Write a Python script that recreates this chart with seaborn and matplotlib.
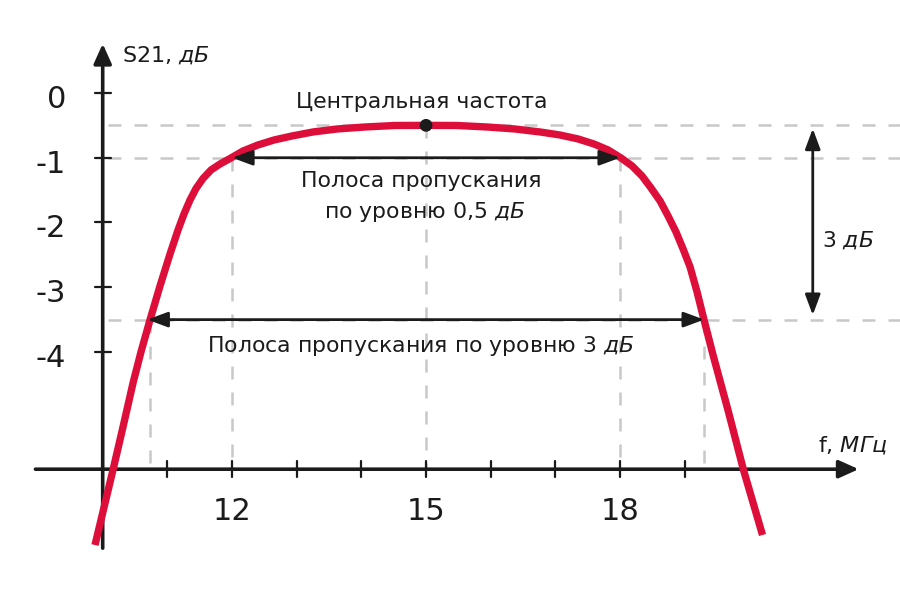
import matplotlib
matplotlib.use("Agg")
import matplotlib.pyplot as plt
import seaborn as sns
import pandas as pd

# ---------------- data ----------------
freq_mhz = [9.881, 10.159, 10.314, 10.469, 10.592, 10.731, 10.886, 11.041, 11.165,
            11.257, 11.350, 11.443, 11.551, 11.675, 11.814, 11.969, 12.169, 12.401,
            12.649, 12.927, 13.252, 13.623, 14.056, 14.520, 15.000, 15.479, 15.943,
            16.376, 16.763, 17.072, 17.351, 17.598, 17.815, 18.016, 18.186, 18.340,
            18.479, 18.619, 18.743, 18.866, 18.975, 19.083, 19.191, 19.299, 19.438,
            19.677, 19.909, 20.203]
s21_db = [-6.981, -5.822, -5.158, -4.479, -3.999, -3.506, -2.981, -2.487, -2.116,
          -1.869, -1.653, -1.475, -1.321, -1.189, -1.097, -1.012, -0.896, -0.803,
          -0.726, -0.664, -0.602, -0.556, -0.525, -0.502, -0.500, -0.502, -0.525,
          -0.556, -0.602, -0.649, -0.710, -0.788, -0.880, -1.004, -1.127, -1.282,
          -1.467, -1.668, -1.900, -2.147, -2.410, -2.687, -3.073, -3.506, -4.046,
          -4.927, -5.822, -6.826]

x_tick_values = [12, 15, 18]
x_tick_labels = ["12", "15", "18"]
x_minor_ticks = [11, 12, 13, 14, 15, 16, 17, 18, 19]
y_tick_values = [0, -1, -2, -3, -4]
y_tick_labels = ["0", "-1", "-2", "-3", "-4"]

center_freq = 15.0
peak_db = -0.5
band05_edges = [12.0, 18.0]
band05_level = -1.0
band3_edges = [10.73, 19.30]
band3_level = -3.5

label_y = "S21, $\\mathit{дБ}$"
label_x = "f, $\\mathit{МГц}$"
label_center = "Центральная частота"
label_band05 = ["Полоса пропускания", "по уровню 0,5 $\\mathit{дБ}$"]
label_band3 = "Полоса пропускания по уровню 3 $\\mathit{дБ}$"
label_3db = "3 $\\mathit{дБ}$"

# ---------------- style ----------------
sns.set_style("white")
plt.rcParams["font.family"] = ["DejaVu Sans"]
plt.rcParams["mathtext.fontset"] = "custom"
plt.rcParams["mathtext.rm"] = "DejaVu Sans"
plt.rcParams["mathtext.it"] = "DejaVu Sans:italic"

fig = plt.figure(figsize=(9, 6), dpi=100)
ax = fig.add_axes([0, 0, 1, 1])
XMIN, XMAX = 8.412, 22.329
YMIN, YMAX = -7.830, 1.436

AX_Y = -5.81   # position of horizontal axis (dB)
AX_X = 10.0    # position of vertical axis (MHz)
ink = "#1b1b1b"
grey = "#c8c8c8"
red = "#DE0E3B"

# ---------------- dashed guides ----------------
dash_kw = dict(color=grey, lw=1.8, dashes=(5.2, 5.2), zorder=1)
for lvl in [peak_db, band05_level, band3_level]:
    ax.plot([AX_X + 0.08, XMAX], [lvl, lvl], **dash_kw)
for f, lvl in [(band3_edges[0], band3_level), (band05_edges[0], band05_level),
               (center_freq, peak_db), (band05_edges[1], band05_level),
               (band3_edges[1], band3_level)]:
    ax.plot([f, f], [lvl, AX_Y], **dash_kw)

# ---------------- axes with arrows ----------------
ax.annotate("", xy=(21.69, AX_Y), xytext=(8.96, AX_Y),
            arrowprops=dict(arrowstyle="-|>,head_length=0.6,head_width=0.27",
                            lw=2.6, color=ink, shrinkA=0, shrinkB=0,
                            mutation_scale=20), zorder=2)
ax.annotate("", xy=(AX_X, 0.76), xytext=(AX_X, -7.03),
            arrowprops=dict(arrowstyle="-|>,head_length=0.6,head_width=0.27",
                            lw=2.6, color=ink, shrinkA=0, shrinkB=0,
                            mutation_scale=20), zorder=2)
for t in x_minor_ticks:
    ax.plot([t, t], [AX_Y - 0.12, AX_Y + 0.12], color=ink, lw=1.6, zorder=2)
for t in y_tick_values:
    ax.plot([AX_X - 0.12, AX_X + 0.13], [t, t], color=ink, lw=1.6, zorder=2)

for v, lab in zip(x_tick_values, x_tick_labels):
    ax.text(v, -6.594, lab, ha="center", va="baseline", fontsize=22, color=ink)
for v, lab in zip(y_tick_values, y_tick_labels):
    ax.text(9.433, v - 0.23, lab, ha="right", va="baseline", fontsize=22, color=ink)

# ---------------- the response curve ----------------
df = pd.DataFrame({"f": freq_mhz, "s21": s21_db})
sns.lineplot(data=df, x="f", y="s21", ax=ax, color=red, lw=5.3,
             estimator=None, sort=False, solid_joinstyle="round",
             solid_capstyle="butt", zorder=3)

# ---------------- band arrows ----------------
harrow = dict(arrowstyle="<|-|>,head_length=0.62,head_width=0.23", lw=2.0,
              color=ink, shrinkA=0, shrinkB=0, mutation_scale=20)
ax.annotate("", xy=(band05_edges[0], band05_level),
            xytext=(band05_edges[1], band05_level), arrowprops=harrow, zorder=4)
ax.annotate("", xy=(band3_edges[0] - 0.04, band3_level),
            xytext=(band3_edges[1] + 0.0, band3_level), arrowprops=harrow, zorder=4)
ax.annotate("", xy=(20.98, peak_db - 0.05), xytext=(20.98, band3_level + 0.07),
            arrowprops=harrow, zorder=4)

# ---------------- center point ----------------
sns.scatterplot(x=[center_freq], y=[peak_db], ax=ax, color=ink, s=85,
                edgecolor="none", zorder=6)

# ---------------- texts ----------------
ax.text(10.30, 0.479, label_y, ha="left", va="baseline", fontsize=16, color=ink)
ax.text(21.06, -5.53, label_x, ha="left", va="baseline", fontsize=16, color=ink)
ax.text(14.93, -0.23, label_center, ha="center", va="baseline", fontsize=15.8, color=ink)
ax.text(14.93, -1.448, label_band05[0], ha="center", va="baseline", fontsize=15.8, color=ink)
ax.text(14.98, -1.93, label_band05[1], ha="center", va="baseline", fontsize=15.8, color=ink)
ax.text(14.92, -3.995, label_band3, ha="center", va="baseline", fontsize=15.8, color=ink)
ax.text(21.12, -2.375, label_3db, ha="left", va="baseline", fontsize=15.8, color=ink)

ax.set_xlim(XMIN, XMAX)
ax.set_ylim(YMIN, YMAX)
ax.axis("off")

fig.savefig("out.png", dpi=100, facecolor="white")
